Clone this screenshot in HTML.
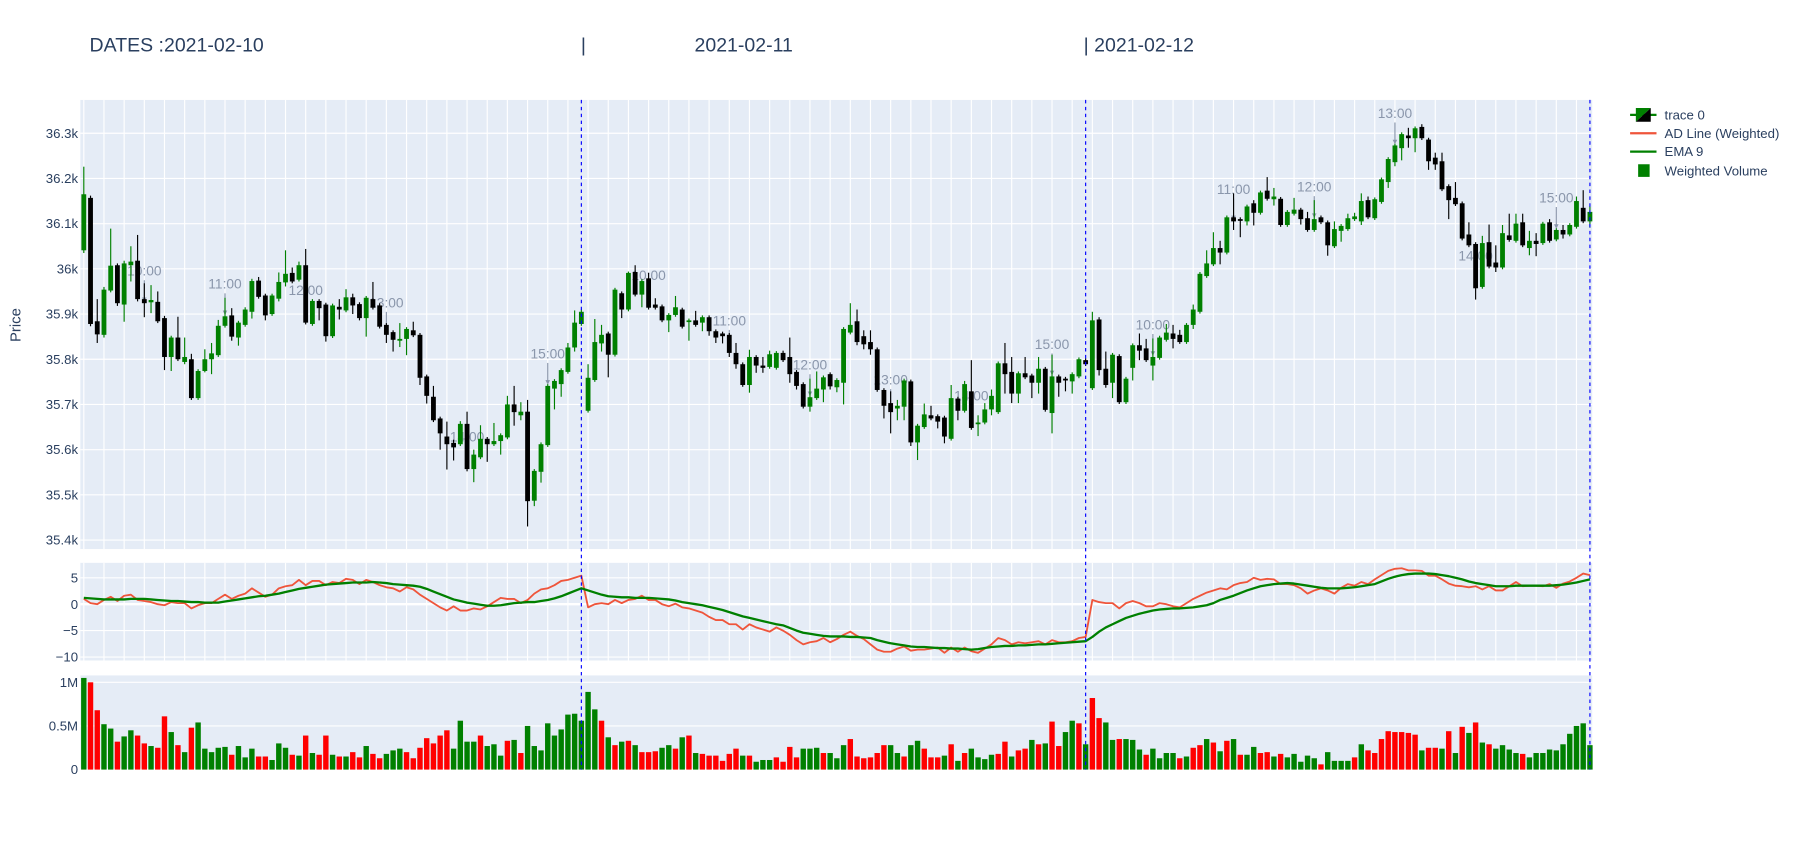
<!DOCTYPE html>
<html><head><meta charset="utf-8"><style>
html,body{margin:0;padding:0;background:#fff;}
svg{display:block;font-family:"Liberation Sans",sans-serif;}
</style></head><body>
<svg id="chart" width="1800" height="850" viewBox="0 0 1568 740" preserveAspectRatio="none" xmlns="http://www.w3.org/2000/svg">
<g id="title" fill="#2a3f5f" font-size="17">
<text x="78" y="45">DATES :2021-02-10</text>
<text x="506" y="45">|</text>
<text x="605" y="45">2021-02-11</text>
<text x="944" y="45">| 2021-02-12</text>
</g>
<text transform="translate(18,283) rotate(-90)" text-anchor="middle" font-size="13" fill="#2a3f5f">Price</text>
<g id="layer"></g>
<g id="legend" font-size="11.5" fill="#2a3f5f">
<g>
<line x1="1420" y1="100" x2="1443" y2="100" stroke="#008000" stroke-width="2"/>
<polygon points="1425,94 1438,94 1425,106" fill="#008000"/>
<polygon points="1438,94 1438,106 1425,106" fill="#000"/>
<text x="1450" y="104">trace 0</text></g>
<g>
<line x1="1420" y1="116" x2="1443" y2="116" stroke="#ef553b" stroke-width="2"/>
<text x="1450" y="120">AD Line (Weighted)</text></g>
<g>
<line x1="1420" y1="132" x2="1443" y2="132" stroke="#008000" stroke-width="2"/>
<text x="1450" y="136">EMA 9</text></g>
<g>
<rect x="1427" y="143" width="10" height="11" fill="#008000"/>
<text x="1450" y="153">Weighted Volume</text></g>
</g>
</svg>
<script>
const opens=[36041,36157,35884,35854,35952,36008,35921,36008,36018,35933,35926,35927,35891,35805,35848,35794,35800,35714,35774,35800,35809,35874,35897,35848,35876,35905,35974,35941,35900,35934,35970,35991,35976,36008,35878,35929,35921,35851,35916,35908,35937,35922,35891,35933,35919,35876,35860,35841,35845,35864,35854,35762,35717,35669,35629,35615,35612,35657,35557,35583,35624,35612,35619,35627,35700,35676,35684,35487,35551,35610,35735,35745,35772,35826,35878,
35686,35754,35835,35857,35810,35946,35910,35993,35943,35979,35921,35917,35886,35898,35910,35883,35886,35881,35893,35862,35857,35854,35814,35789,35743,35805,35786,35783,35781,35814,35805,35772,35745,35695,35714,35733,35767,35738,35748,35859,35884,35851,35838,35822,35732,35703,35691,35695,35751,35616,35650,35676,35674,35671,35624,35713,35686,35729,35657,35660,35689,35683,35791,35772,35724,35769,35764,35748,35779,35681,35762,35757,35751,35762,35798,
35736,35888,35779,35748,35807,35705,35781,35831,35824,35786,35803,35843,35857,35854,35838,35876,35905,35984,36010,36046,36036,36114,36110,36105,36145,36124,36173,36154,36155,36097,36122,36131,36112,36086,36114,36103,36050,36084,36088,36110,36105,36152,36112,36148,36192,36236,36267,36295,36289,36314,36286,36246,36238,36183,36157,36145,36076,36055,35960,36059,36014,36003,36074,36062,36103,36046,36062,36057,36103,36065,36086,36076,36093,36135,36105];
const closes=[36165,35878,35855,35954,36007,35924,36012,36016,35933,35924,35931,35884,35805,35848,35800,35805,35714,35774,35800,35813,35874,35895,35850,35881,35910,35973,35938,35897,35941,35971,35989,35972,36008,35881,35929,35913,35851,35919,35910,35937,35919,35891,35936,35914,35872,35854,35843,35845,35867,35853,35759,35719,35665,35636,35612,35605,35657,35557,35589,35624,35612,35619,35632,35700,35683,35684,35486,35553,35612,35741,35752,35776,35826,35881,35905,
35759,35838,35854,35810,35954,35910,35991,35943,35973,35914,35914,35886,35898,35915,35872,35886,35876,35893,35862,35848,35851,35814,35789,35743,35805,35786,35781,35811,35814,35798,35767,35741,35695,35716,35735,35760,35740,35754,35867,35876,35838,35833,35822,35732,35697,35683,35697,35753,35616,35653,35678,35669,35662,35629,35714,35686,35745,35648,35660,35689,35719,35791,35767,35724,35769,35760,35748,35779,35688,35762,35748,35753,35767,35800,35789,
35886,35776,35743,35810,35705,35757,35831,35819,35798,35805,35848,35859,35845,35838,35876,35910,35989,36012,36046,36036,36114,36105,36107,36138,36124,36169,36155,36160,36097,36126,36131,36110,36086,36110,36103,36052,36088,36095,36112,36116,36150,36114,36154,36198,36243,36273,36298,36289,36311,36289,36238,36231,36176,36152,36143,36067,36052,35957,36057,36005,36003,36079,36064,36100,36052,36062,36055,36100,36062,36086,36076,36097,36150,36105,36126];
const highs=[36226,36162,35933,35960,36089,36012,36018,36050,36075,35968,35964,35950,35896,35852,35894,35848,35812,35778,35822,35836,35887,35936,35913,35885,35915,35978,35982,35945,35945,35992,36041,36003,36016,36044,35933,35933,35925,35923,35933,35955,35945,35926,35940,35971,35924,35880,35864,35880,35871,35883,35858,35766,35741,35673,35662,35622,35663,35684,35600,35654,35628,35659,35636,35719,35741,35705,35710,35557,35616,35745,35756,35780,35836,35908,35910,
35789,35889,35876,35861,35958,35950,35994,36008,35977,35991,35935,35921,35902,35940,35914,35890,35907,35897,35897,35866,35861,35858,35836,35793,35821,35809,35805,35819,35818,35819,35848,35776,35749,35757,35773,35764,35771,35758,35871,35924,35910,35864,35864,35826,35736,35729,35710,35757,35755,35657,35702,35697,35678,35675,35743,35717,35752,35798,35676,35703,35733,35795,35836,35805,35773,35805,35768,35805,35783,35810,35766,35761,35771,35804,35802,
35905,35893,35817,35814,35811,35761,35835,35857,35845,35846,35852,35878,35876,35865,35880,35921,35993,36041,36081,36062,36118,36167,36114,36142,36152,36173,36203,36179,36159,36130,36157,36135,36126,36152,36118,36107,36105,36099,36122,36124,36167,36160,36158,36202,36247,36277,36302,36312,36315,36320,36290,36257,36257,36187,36192,36149,36103,36059,36073,36098,36052,36097,36122,36122,36122,36084,36079,36104,36110,36090,36097,36101,36160,36174,36139];
const lows=[36035,35873,35836,35848,35948,35918,35883,35972,35928,35893,35902,35880,35776,35774,35796,35789,35710,35710,35771,35767,35805,35870,35841,35830,35872,35890,35934,35886,35896,35928,35961,35968,35972,35877,35874,35886,35839,35847,35888,35904,35900,35886,35850,35910,35868,35836,35817,35827,35809,35849,35743,35702,35661,35600,35556,35576,35608,35552,35528,35579,35573,35608,35589,35623,35653,35665,35430,35475,35527,35606,35689,35717,35768,35817,35874,
35682,35750,35817,35760,35806,35891,35906,35939,35915,35910,35910,35882,35860,35894,35868,35841,35872,35862,35852,35836,35835,35805,35779,35739,35726,35770,35770,35779,35777,35794,35748,35733,35691,35684,35710,35705,35733,35727,35700,35855,35831,35822,35810,35728,35669,35636,35665,35665,35608,35577,35646,35665,35647,35614,35620,35665,35682,35644,35630,35656,35676,35679,35724,35703,35703,35756,35714,35724,35684,35636,35717,35729,35724,35758,35785,
35732,35764,35737,35714,35701,35701,35753,35798,35794,35753,35799,35839,35824,35834,35834,35867,35901,35980,36006,36010,36032,36086,36070,36096,36096,36120,36151,36140,36093,36093,36118,36098,36082,36082,36099,36029,36046,36060,36084,36106,36097,36110,36108,36144,36179,36227,36240,36268,36258,36285,36219,36219,36172,36110,36139,36063,36048,35932,35956,36001,35993,35999,36060,36058,36048,36030,36028,36053,36058,36061,36067,36072,36089,36101,36091];
const adLine=[1.0,0.2,0,0.8,1.4,0.6,1.6,1.8,0.8,0.6,0.4,0,-0.2,0.4,0.2,0.2,-0.8,-0.2,0.2,0.2,1.0,1.8,1.0,1.6,2.0,3.0,2.2,1.4,1.8,3.0,3.4,3.6,4.6,3.6,4.4,4.4,3.6,4.2,4.0,4.8,4.6,3.8,4.6,4.2,3.6,
3.2,3.0,2.4,3.2,2.8,1.8,1.0,0.2,-0.6,-1.2,-0.4,-1.2,-1.2,-0.8,-1.0,-0.4,0.4,1.2,1.0,1.0,0.2,0.8,2.0,2.8,3.0,3.6,4.4,4.6,5.0,5.4,
-0.6,0,0.2,0,0.8,0.2,0.8,1.0,1.6,0.8,0.8,0,-0.4,0.1,
-0.6,-0.8,-1.2,-1.6,-2.4,-3.0,-3.0,-3.8,-3.8,-4.8,-3.8,-4.4,-4.8,-5.2,-4.4,-5.0,-5.8,-6.8,-7.6,-7.2,-7.0,-6.4,-7.2,-6.6,-5.8,-5.2,-6.0,-6.6,-7.6,-8.6,-9.0,-9.0,-8.4,-8.0,-8.8,-8.6,-8.6,-8.4,-8.2,-9.2,-8.2,-9.0,-8.2,-8.9,
-9.2,-8.4,-7.6,-6.4,-6.8,-7.6,-7.2,-7.4,-7.2,-7.0,-7.6,-6.8,-7.2,-7.2,-7.0,-6.4,-6.2,
0.8,0.4,0.2,0.2,-0.8,0.2,0.6,0.2,-0.4,-0.4,0.2,0,-0.4,-0.6,0.2,1.0,1.6,2.2,2.6,3.0,2.8,3.6,4.0,4.2,5.0,4.6,4.8,
4.7,3.8,3.8,3.6,3.0,2.0,2.6,3.0,2.6,2.0,3.1,3.8,3.5,4.2,3.8,4.7,5.5,6.3,6.7,6.8,6.4,6.4,6.3,5.4,5.4,4.7,3.9,3.5,3.4,3.2,3.4,2.8,3.4,2.6,2.6,3.4,4.2,3.4,3.5,3.5,3.4,3.8,3.1,3.9,4.3,5.0,5.8,5.5];
const ema9=[1.2,1.1,1.0,0.9,0.9,0.9,0.9,1.0,1.0,1.0,0.9,0.8,0.7,0.6,0.6,0.5,0.4,0.4,0.3,0.3,0.3,0.5,0.7,0.9,1.1,1.3,1.5,1.6,1.8,2.0,2.3,2.6,2.9,3.1,3.3,3.5,3.7,3.8,3.9,4.0,4.1,4.1,4.1,4.2,4.1,
4.0,3.8,3.7,3.6,3.5,3.3,2.9,2.4,1.9,1.4,0.9,0.6,0.3,0.1,-0.1,-0.3,-0.3,-0.2,0.0,0.2,0.3,0.4,0.4,0.6,0.8,1.1,1.5,2.0,2.5,3.0,
2.6,2.2,1.8,1.5,1.4,1.3,1.3,1.2,1.2,1.2,1.1,1.0,0.9,0.7,
0.4,0.2,0.0,-0.2,-0.5,-0.8,-1.1,-1.5,-1.9,-2.3,-2.6,-2.9,-3.2,-3.5,-3.8,
-4.0,-4.5,-5.0,-5.4,-5.6,-5.8,-6.0,-6.1,-6.1,-6.1,-6.2,-6.2,-6.3,-6.4,-6.8,-7.1,-7.4,-7.6,-7.8,-8.0,-8.1,-8.1,-8.2,-8.3,-8.3,-8.4,-8.4,-8.5,-8.6,
-8.5,-8.3,-8.1,-8.0,-7.9,-7.9,-7.8,-7.8,-7.7,-7.6,-7.6,-7.5,-7.4,-7.3,-7.2,-7.1,-7.0,
-6.2,-5.2,-4.4,-3.8,-3.2,-2.6,-2.2,-1.8,-1.5,-1.2,-1.0,-0.9,-0.8,-0.8,-0.7,-0.6,-0.4,-0.2,0.2,0.8,1.2,1.6,2.1,2.6,3.0,3.4,3.6,
3.8,3.9,4.0,3.9,3.7,3.5,3.3,3.1,3.0,3.0,3.0,3.1,3.2,3.4,3.6,3.8,4.3,4.8,5.2,5.5,5.7,5.8,5.8,5.8,5.7,5.5,5.3,5.0,4.7,4.3,4.0,3.8,3.6,3.4,3.4,3.4,3.5,3.5,3.5,3.5,3.5,3.5,3.6,3.7,3.9,4.1,4.4,4.7];
const volumeM=[1.05,1.0,.68,.52,.47,.32,.38,.45,.39,.30,.27,.25,.61,.43,.28,.20,.48,.54,.24,.20,.25,.26,.17,.27,.14,.24,.15,.15,.11,.30,.25,.17,.16,.39,.19,.17,.39,.17,.15,.15,.20,.14,.27,.18,.13,.18,.22,.24,.20,.13,.25,.36,.30,.39,.45,.24,.56,.32,.32,.39,.27,.29,.16,.33,.34,.19,.50,.27,.22,.53,.39,.46,.63,.64,.56,
.89,.69,.56,.37,.28,.32,.33,.28,.20,.20,.21,.25,.28,.24,.37,.39,.19,.18,.16,.16,.10,.18,.24,.16,.16,.09,.11,.11,.14,.09,.26,.14,.24,.24,.25,.19,.19,.13,.28,.35,.15,.13,.14,.19,.28,.28,.19,.15,.28,.33,.24,.14,.14,.16,.29,.10,.19,.24,.14,.12,.17,.18,.32,.15,.22,.24,.34,.29,.30,.55,.27,.43,.56,.53,.29,
.82,.59,.54,.34,.35,.35,.34,.23,.17,.24,.13,.19,.19,.13,.15,.25,.28,.35,.31,.21,.33,.35,.17,.17,.26,.19,.20,.15,.18,.14,.18,.09,.16,.13,.06,.20,.10,.10,.10,.14,.29,.22,.19,.35,.44,.43,.43,.42,.40,.22,.25,.25,.24,.44,.19,.49,.42,.54,.31,.29,.24,.28,.23,.19,.18,.14,.19,.19,.23,.22,.29,.41,.50,.53,.28];
const volumeDir="GRRGGRGGRRGRRGRGRGGGGGRGGGRRGGGRGRGRRGRGRRGRRGGGRRRRRRRGGGGRGGGRGRGGGGGGGGGGGRGRGRGRRRGGRGRGRRRRRRGRGGGRRRRGGGRGGGRRRRRRGGRGGRRRGRGRGGGGRRGRRGRGRRGGRGRRGGRGGGRGGGGRGRRGRGRGRGGRRGRGGGGGRGGGGRGRRRRRRRRGRRGRGRGRGRGGGGRG";
const timeLabels=["10:00","11:00","12:00","13:00","14:00","15:00"];
const dayEnds=[74,149,224];
const priceTicks=[36300,36200,36100,36000,35900,35800,35700,35600,35500,35400];
const priceTickLabels=["36.3k","36.2k","36.1k","36k","35.9k","35.8k","35.7k","35.6k","35.5k","35.4k"];
const adTicks=[5,0,-5,-10];
const adTickLabels=["5","0","−5","−10"];
const volTicks=[1,0.5,0];
const volTickLabels=["1M","0.5M","0"];

const N=closes.length;
const X0=73,X1=1385,PL=70,PR=1387;
const step=(X1-X0)/(N-1);
const xOf=i=>X0+i*step;
const yP=p=>116+(36300-p)*0.3935;
const yA=v=>526-v*4.6;
const yV=m=>670-m*76;
const NS="http://www.w3.org/2000/svg";
const layer=document.getElementById('layer');
function mk(tag,attrs,parent){const e=document.createElementNS(NS,tag);for(const k in attrs)e.setAttribute(k,attrs[k]);(parent||layer).appendChild(e);return e;}

const panels=[[87,478,'price-panel'],[490,575,'ad-panel'],[588,670,'volume-panel']];
panels.forEach(p=>{const r=mk('rect',{x:PL,y:p[0],width:PR-PL,height:p[1]-p[0],fill:'#e5ecf6'});

});
const vg=mk('g',{stroke:'#fff','stroke-width':1});


for(let i=0;i<N;i+=3){mk('line',{x1:xOf(i),x2:xOf(i),y1:87,y2:478},vg);mk('line',{x1:xOf(i),x2:xOf(i),y1:490,y2:575},vg);}
const tk=mk('g',{'font-size':11.5,fill:'#2a3f5f','text-anchor':'end'});


priceTicks.forEach((p,k)=>{const y=yP(p);mk('line',{x1:PL,x2:PR,y1:y,y2:y,stroke:'#fff','stroke-width':1},vg);const t=mk('text',{x:PL-2,y:y+4},tk);t.textContent=priceTickLabels[k];});
adTicks.forEach((v,k)=>{const y=yA(v);mk('line',{x1:PL,x2:PR,y1:y,y2:y,stroke:'#fff','stroke-width':v===0?2:1},vg);const t=mk('text',{x:PL-2,y:y+4},tk);t.textContent=adTickLabels[k];});
volTicks.forEach((v,k)=>{const y=yV(v);mk('line',{x1:PL,x2:PR,y1:y,y2:y,stroke:'#fff','stroke-width':v===0?2:1},vg);const t=mk('text',{x:PL-2,y:y+4},tk);t.textContent=volTickLabels[k];});

const an=mk('g',{'font-size':12,fill:'#8a96ab','text-anchor':'middle'});


for(let d=0;d<3;d++){timeLabels.forEach((lb,k)=>{const i=d*75+9+12*k;if(i>=N)return;const x=xOf(i),y=yP(closes[i]);
mk('line',{x1:x,x2:x,y1:y-20,y2:y-2,stroke:'#8a96ab','stroke-width':1},an);
mk('polygon',{points:`${x-2},${y-5} ${x+2},${y-5} ${x},${y-1}`,fill:'#8a96ab'},an);
const t=mk('text',{x:x,y:y-24},an);t.textContent=lb;

});}

const cg=mk('g',{});


for(let i=0;i<N;i++){const up=closes[i]>=opens[i];const col=up?'#008000':'#000';const x=xOf(i);
const g=mk('g',{},cg);


mk('line',{x1:x,x2:x,y1:yP(highs[i]),y2:yP(lows[i]),stroke:col,'stroke-width':1},g);
const yt=yP(Math.max(opens[i],closes[i])),yb=yP(Math.min(opens[i],closes[i]));
mk('rect',{x:x-2.1,y:yt,width:4.2,height:Math.max(1.5,yb-yt),fill:col},g);}

function pts(arr){return arr.map((v,i)=>xOf(i).toFixed(2)+','+yA(v).toFixed(2)).join(' ');}
const ad=mk('polyline',{points:pts(adLine),fill:'none',stroke:'#ef553b','stroke-width':1.6,'stroke-linejoin':'round'});


const em=mk('polyline',{points:pts(ema9),fill:'none',stroke:'#008000','stroke-width':2,'stroke-linejoin':'round'});



const vgp=mk('g',{});


for(let i=0;i<N;i++){const y=yV(volumeM[i]);const b=mk('rect',{x:xOf(i)-2.35,y:y,width:4.7,height:670-y,fill:volumeDir[i]==='R'?'#ff0000':'#008000'},vgp);

}

dayEnds.forEach(i=>{const l=mk('line',{x1:xOf(i),x2:xOf(i),y1:87,y2:670,stroke:'#0000ff','stroke-width':1,'stroke-dasharray':'3,3'});

});
</script>
</body></html>
